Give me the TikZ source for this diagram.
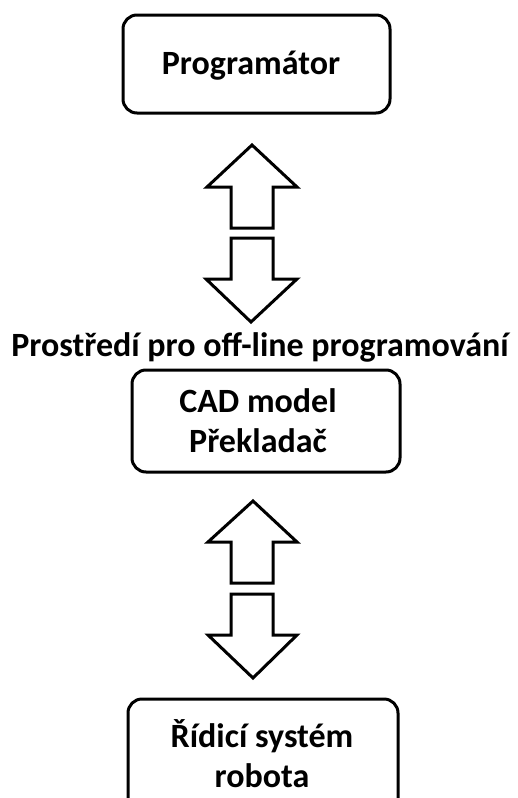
\documentclass[tikz,border=0pt]{standalone}
\usepackage{fontspec}
\setmainfont{Carlito}
\begin{document}
\begin{tikzpicture}[x=1pt,y=-1pt,
  box/.style={draw=black,line width=3pt,rounded corners=14pt},
  lbl/.style={font=\fontsize{34}{40}\selectfont\bfseries,align=center,inner sep=0pt},
  blockarrow/.style={draw=black,line width=3pt,line join=miter,fill=white}]
\useasboundingbox (0,0) rectangle (517,798);
\clip (0,0) rectangle (517,798);
% boxes
\draw[box] (123,15) rectangle (390,113);
\node[lbl] (prog) at (251,66) {Programátor};
\draw[box] (132,370) rectangle (400,472);
\node[lbl] (cad) at (258,421) {CAD model\\Překladač};
\node[lbl] (title) at (260,347) {Prostředí pro off-line programování};
\draw[box] (128,699) rectangle (398,820);
\node[lbl] (ctrl) at (262,754) {Řídicí systém\\robota};
% block arrows, group 1
\draw[blockarrow] (252,145) -- (297,187) -- (273,187) -- (273,228) -- (231,228) -- (231,187) -- (207,187) -- cycle;
\draw[blockarrow] (231,238) -- (273,238) -- (273,279) -- (297,279) -- (251,322) -- (206,279) -- (231,279) -- cycle;
% block arrows, group 2
\draw[blockarrow] (253,501) -- (297,542) -- (273,542) -- (273,583) -- (231,583) -- (231,542) -- (208,542) -- cycle;
\draw[blockarrow] (231,594) -- (273,594) -- (273,635) -- (297,635) -- (253,678) -- (208,635) -- (231,635) -- cycle;
\end{tikzpicture}
\end{document}
